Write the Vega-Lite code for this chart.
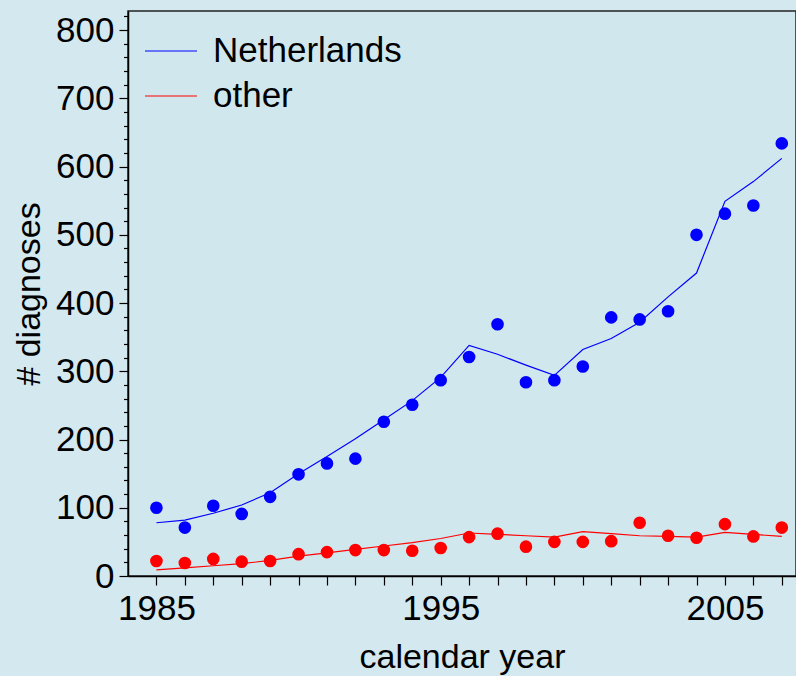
{
  "$schema": "https://vega.github.io/schema/vega-lite/v6.json",
  "width": 668,
  "height": 565,
  "autosize": {"type": "none"},
  "padding": {"left": 128, "top": 11, "right": 0, "bottom": 100},
  "background": "#d3e8ef",
  "config": {
    "view": {"stroke": "#222", "strokeWidth": 1.5, "fill": "#d1e7ee"},
    "font": "Liberation Sans",
    "axisY": {"labelOverlap": false}
  },
  "data": {
    "values": [
      {"year": 1985, "group": "Netherlands", "count": 100, "fit": 78},
      {"year": 1986, "group": "Netherlands", "count": 71, "fit": 82},
      {"year": 1987, "group": "Netherlands", "count": 103, "fit": 92},
      {"year": 1988, "group": "Netherlands", "count": 91, "fit": 104},
      {"year": 1989, "group": "Netherlands", "count": 116, "fit": 122},
      {"year": 1990, "group": "Netherlands", "count": 149, "fit": 150},
      {"year": 1991, "group": "Netherlands", "count": 165, "fit": 175},
      {"year": 1992, "group": "Netherlands", "count": 172, "fit": 201},
      {"year": 1993, "group": "Netherlands", "count": 226, "fit": 229},
      {"year": 1994, "group": "Netherlands", "count": 251, "fit": 257},
      {"year": 1995, "group": "Netherlands", "count": 287, "fit": 291},
      {"year": 1996, "group": "Netherlands", "count": 321, "fit": 338},
      {"year": 1997, "group": "Netherlands", "count": 369, "fit": 325},
      {"year": 1998, "group": "Netherlands", "count": 284, "fit": 309},
      {"year": 1999, "group": "Netherlands", "count": 287, "fit": 294},
      {"year": 2000, "group": "Netherlands", "count": 307, "fit": 332},
      {"year": 2001, "group": "Netherlands", "count": 379, "fit": 348},
      {"year": 2002, "group": "Netherlands", "count": 376, "fit": 372},
      {"year": 2003, "group": "Netherlands", "count": 388, "fit": 409},
      {"year": 2004, "group": "Netherlands", "count": 500, "fit": 444},
      {"year": 2005, "group": "Netherlands", "count": 531, "fit": 549},
      {"year": 2006, "group": "Netherlands", "count": 543, "fit": 578},
      {"year": 2007, "group": "Netherlands", "count": 634, "fit": 612},
      {"year": 1985, "group": "other", "count": 22, "fit": 9},
      {"year": 1986, "group": "other", "count": 19, "fit": 12},
      {"year": 1987, "group": "other", "count": 25, "fit": 15},
      {"year": 1988, "group": "other", "count": 21, "fit": 18},
      {"year": 1989, "group": "other", "count": 22, "fit": 23},
      {"year": 1990, "group": "other", "count": 32, "fit": 29},
      {"year": 1991, "group": "other", "count": 35, "fit": 34},
      {"year": 1992, "group": "other", "count": 38, "fit": 39},
      {"year": 1993, "group": "other", "count": 38, "fit": 44},
      {"year": 1994, "group": "other", "count": 37, "fit": 49},
      {"year": 1995, "group": "other", "count": 41, "fit": 55},
      {"year": 1996, "group": "other", "count": 57, "fit": 63},
      {"year": 1997, "group": "other", "count": 62, "fit": 61},
      {"year": 1998, "group": "other", "count": 43, "fit": 59},
      {"year": 1999, "group": "other", "count": 50, "fit": 57},
      {"year": 2000, "group": "other", "count": 50, "fit": 65},
      {"year": 2001, "group": "other", "count": 51, "fit": 62},
      {"year": 2002, "group": "other", "count": 78, "fit": 59},
      {"year": 2003, "group": "other", "count": 59, "fit": 58},
      {"year": 2004, "group": "other", "count": 56, "fit": 57},
      {"year": 2005, "group": "other", "count": 76, "fit": 64},
      {"year": 2006, "group": "other", "count": 58, "fit": 61},
      {"year": 2007, "group": "other", "count": 71, "fit": 58}
    ]
  },
  "transform": [{"fold": ["count", "fit"], "as": ["kind", "value"]}],
  "encoding": {
    "x": {
      "field": "year",
      "type": "quantitative",
      "scale": {"domain": [1984, 2007.5], "nice": false, "zero": false},
      "axis": {
        "title": "calendar year",
        "values": [1985,1986,1987,1988,1989,1990,1991,1992,1993,1994,1995,1996,1997,1998,1999,2000,2001,2002,2003,2004,2005,2006,2007],
        "format": "d",
        "labelExpr": "(datum.value - 1985) % 10 == 0 ? datum.label : ''",
        "labelFontSize": {"condition": {"test": "(datum.value - 1985) % 10 == 0", "value": 35}, "value": 0},
        "labelOverlap": false,
        "labelFont": "Liberation Sans",
        "labelColor": "#000",
        "titleFont": "Liberation Sans",
        "titleFontSize": 34,
        "titleFontWeight": "normal",
        "titleColor": "#000",
        "domainColor": "#000",
        "domainWidth": 1.5,
        "tickColor": "#000",
        "tickWidth": 1.2,
        "tickSize": 9,
        "labelPadding": 6,
        "titlePadding": 14,
        "grid": false
      }
    },
    "y": {
      "field": "value",
      "type": "quantitative",
      "scale": {"domain": [0, 828], "nice": false},
      "axis": {
        "title": "# diagnoses",
        "values": [0,20,40,60,80,100,120,140,160,180,200,220,240,260,280,300,320,340,360,380,400,420,440,460,480,500,520,540,560,580,600,620,640,660,680,700,720,740,760,780,800,820],
        "labelExpr": "datum.value % 100 == 0 ? datum.label : ''",
        "labelFontSize": {"condition": {"test": "datum.value % 100 == 0", "value": 35}, "value": 0},
        "labelOverlap": false,
        "labelBound": false,
        "labelFont": "Liberation Sans",
        "labelColor": "#000",
        "titleFont": "Liberation Sans",
        "titleFontSize": 34,
        "titleFontWeight": "normal",
        "titleColor": "#000",
        "domainColor": "#000",
        "domainWidth": 1.5,
        "tickColor": "#000",
        "tickWidth": 1.2,
        "tickSize": {"condition": {"test": "datum.value % 100 == 0", "value": 9}, "value": 4.5},
        "labelPadding": 5,
        "titlePadding": 9,
        "grid": false
      }
    },
    "color": {
      "field": "group",
      "type": "nominal",
      "scale": {"domain": ["Netherlands", "other"], "range": ["#0000ff", "#ff0000"]}
    }
  },
  "layer": [
    {
      "transform": [{"filter": "datum.kind == 'fit'"}],
      "mark": {"type": "line", "strokeWidth": 1.2},
      "encoding": {
        "color": {
          "field": "group",
          "type": "nominal",
          "legend": {
            "title": null,
            "orient": "none",
            "legendX": 16,
            "legendY": 13,
            "symbolType": "stroke",
            "symbolSize": 2704,
            "symbolStrokeWidth": 1.2,
            "labelFont": "Liberation Sans",
            "labelFontSize": 35,
            "labelColor": "#000",
            "labelOffset": 15,
            "rowPadding": -8,
            "labelLimit": 400
          }
        }
      }
    },
    {
      "transform": [{"filter": "datum.kind == 'count'"}],
      "mark": {"type": "circle", "size": 160, "opacity": 1},
      "encoding": {
        "color": {"field": "group", "type": "nominal", "legend": null}
      }
    }
  ],
  "resolve": {"legend": {"color": "independent"}}
}
